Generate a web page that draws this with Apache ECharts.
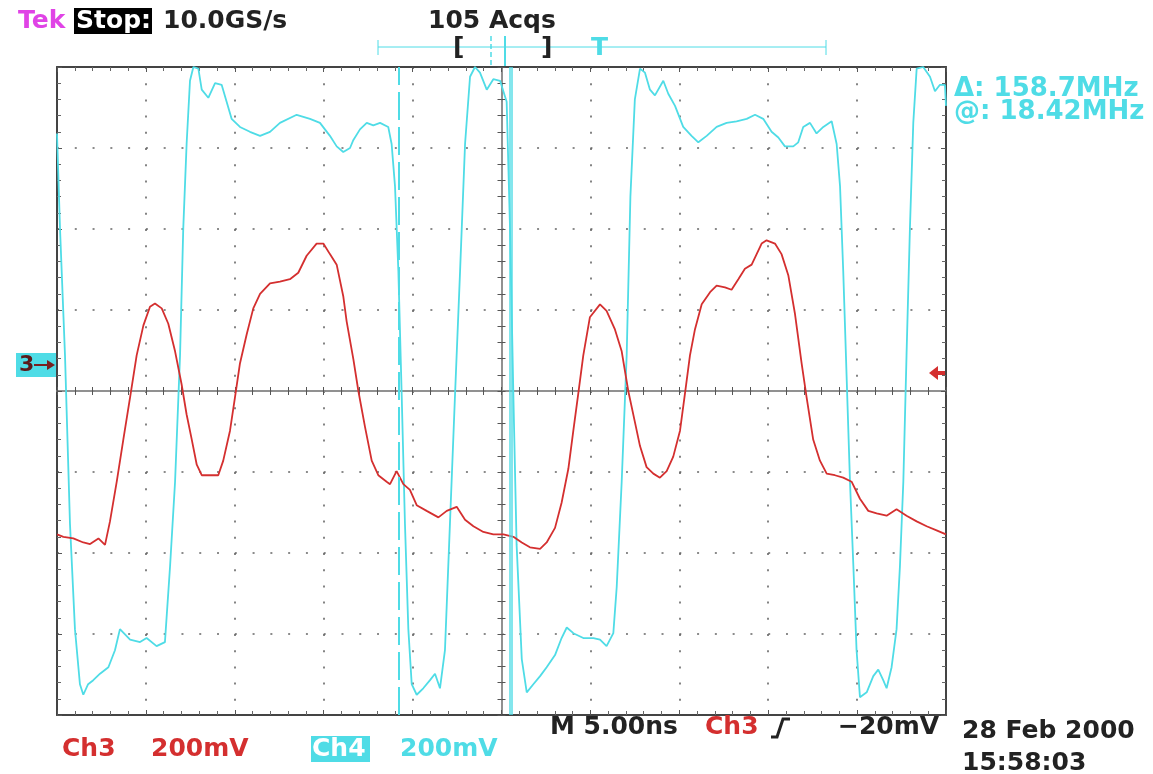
<!DOCTYPE html>
<html>
<head>
<meta charset="utf-8">
<script src="https://cdn.jsdelivr.net/npm/echarts@6/dist/echarts.min.js"></script>
<style>
  html, body { margin: 0; padding: 0; background: #fff; }
  #scope { width: 1153px; height: 774px; }
</style>
</head>
<body>
<div id="scope"></div>
<script>
// time in ns (5 ns/div), amplitude in divisions (200 mV/div)
var ch3 = [
  [0, -1.77], [0.36, -1.80], [0.92, -1.82], [1.48, -1.87], [1.86, -1.89], [2.33, -1.82], [2.70, -1.90],
  [2.98, -1.61], [3.36, -1.12], [3.73, -0.60], [4.11, -0.08], [4.48, 0.44], [4.86, 0.81], [5.23, 1.04],
  [5.51, 1.08], [5.89, 1.02], [6.26, 0.83], [6.64, 0.49], [7.01, 0.08], [7.29, -0.29], [7.58, -0.60],
  [7.86, -0.91], [8.14, -1.04], [8.61, -1.04], [9.07, -1.04], [9.35, -0.86], [9.73, -0.49], [10.01, -0.08],
  [10.29, 0.34], [10.67, 0.70], [11.04, 1.02], [11.42, 1.20], [11.98, 1.33], [12.54, 1.35], [13.10, 1.38],
  [13.57, 1.46], [14.04, 1.67], [14.60, 1.82], [14.98, 1.82], [15.35, 1.69], [15.73, 1.56], [16.10, 1.17],
  [16.29, 0.86], [16.67, 0.39], [16.95, 0.0], [17.32, -0.44], [17.70, -0.86], [18.07, -1.04], [18.54, -1.12],
  [18.73, -1.15], [19.10, -0.99], [19.48, -1.15], [19.85, -1.22], [20.23, -1.41], [20.79, -1.48], [21.45, -1.56],
  [21.92, -1.48], [22.48, -1.43], [22.95, -1.59], [23.42, -1.67], [23.98, -1.74], [24.54, -1.77], [25.11, -1.77],
  [25.67, -1.80], [26.14, -1.87], [26.60, -1.93], [27.17, -1.95], [27.54, -1.87], [28.01, -1.69], [28.38, -1.38],
  [28.76, -0.96], [29.04, -0.49], [29.32, -0.03], [29.60, 0.44], [29.97, 0.91], [30.54, 1.07], [30.91, 0.99],
  [31.38, 0.76], [31.76, 0.49], [32.13, 0.0], [32.51, -0.39], [32.79, -0.68], [33.16, -0.94], [33.54, -1.02],
  [33.91, -1.07], [34.29, -0.99], [34.66, -0.81], [35.04, -0.49], [35.32, -0.03], [35.60, 0.44], [35.88, 0.76],
  [36.26, 1.07], [36.73, 1.22], [37.10, 1.30], [37.57, 1.28], [37.94, 1.25], [38.32, 1.38], [38.69, 1.51],
  [39.07, 1.56], [39.35, 1.69], [39.63, 1.82], [39.91, 1.86], [40.38, 1.82], [40.75, 1.69], [41.13, 1.43],
  [41.50, 0.96], [41.88, 0.34], [42.16, -0.08], [42.53, -0.60], [42.91, -0.86], [43.29, -1.02], [43.75, -1.04],
  [44.22, -1.07], [44.69, -1.12], [45.16, -1.33], [45.63, -1.48], [46.10, -1.51], [46.66, -1.54], [47.22, -1.46],
  [47.78, -1.54], [48.35, -1.61], [48.91, -1.67], [49.47, -1.72], [50.0, -1.77]
];

var ch4 = [
  [0, 3.18], [0.17, 2.0], [0.45, 0.44], [0.73, -1.64], [1.01, -2.94], [1.29, -3.62], [1.48, -3.75],
  [1.75, -3.62], [2.04, -3.57], [2.42, -3.49], [2.89, -3.41], [3.26, -3.20], [3.54, -2.94], [4.11, -3.07],
  [4.67, -3.10], [5.04, -3.05], [5.60, -3.15], [6.07, -3.10], [6.36, -2.16], [6.64, -1.12], [6.92, 0.44],
  [7.10, 2.0], [7.29, 3.05], [7.48, 3.83], [7.67, 4.0], [7.95, 3.98], [8.14, 3.72], [8.51, 3.62], [8.89, 3.80],
  [9.26, 3.78], [9.54, 3.57], [9.82, 3.36], [10.29, 3.26], [10.85, 3.20], [11.42, 3.15], [11.98, 3.20],
  [12.54, 3.31], [13.48, 3.41], [14.23, 3.36], [14.79, 3.31], [15.35, 3.15], [15.73, 3.02], [16.10, 2.95],
  [16.48, 3.0], [16.67, 3.10], [17.04, 3.23], [17.42, 3.31], [17.79, 3.28], [18.17, 3.31], [18.63, 3.26],
  [18.82, 3.05], [19.01, 2.53], [19.20, 1.48], [19.39, -0.08], [19.57, -1.64], [19.76, -2.94], [19.95, -3.62],
  [20.23, -3.75], [20.60, -3.67], [20.98, -3.57], [21.26, -3.49], [21.54, -3.67], [21.82, -3.20], [22.10, -1.64],
  [22.38, -0.08], [22.67, 1.48], [22.95, 3.05], [23.23, 3.88], [23.51, 4.0], [23.79, 3.93], [24.17, 3.72],
  [24.54, 3.85], [24.92, 3.83], [25.29, 3.57], [25.48, 2.0], [25.67, -0.08], [25.85, -1.90], [26.14, -3.31],
  [26.42, -3.72], [26.79, -3.62], [27.17, -3.52], [27.54, -3.41], [28.01, -3.26], [28.38, -3.05], [28.67, -2.92],
  [29.04, -2.99], [29.60, -3.05], [30.17, -3.05], [30.54, -3.07], [30.91, -3.15], [31.29, -2.99], [31.48, -2.42],
  [31.76, -1.12], [32.04, 0.44], [32.25, 2.4], [32.50, 3.6], [32.79, 3.98], [33.07, 3.93], [33.35, 3.72],
  [33.63, 3.65], [34.10, 3.83], [34.38, 3.67], [34.76, 3.52], [35.22, 3.26], [35.69, 3.15], [36.07, 3.07],
  [36.54, 3.15], [37.10, 3.26], [37.66, 3.31], [38.22, 3.33], [38.79, 3.36], [39.26, 3.41], [39.72, 3.36],
  [40.19, 3.20], [40.57, 3.13], [40.94, 3.02], [41.41, 3.02], [41.69, 3.07], [41.97, 3.26], [42.35, 3.31],
  [42.72, 3.18], [43.10, 3.26], [43.57, 3.33], [43.85, 3.05], [44.04, 2.53], [44.22, 1.48], [44.41, 0.18],
  [44.60, -1.12], [44.79, -2.16], [44.97, -3.20], [45.16, -3.78], [45.54, -3.72], [45.91, -3.52], [46.19, -3.44],
  [46.47, -3.57], [46.66, -3.67], [46.94, -3.41], [47.22, -2.94], [47.41, -2.16], [47.60, -1.12], [47.78, 0.44],
  [47.97, 2.0], [48.16, 3.31], [48.35, 3.98], [48.72, 4.0], [49.10, 3.88], [49.38, 3.70], [49.66, 3.78],
  [49.94, 3.78], [50.0, 3.52]
];

// cursor positions (ns)
var cursorNs = [19.22, 25.52];

var RED = '#d42f2f';
var CYAN = '#4fdce6';
var INK = '#222';
var FONT = 'bold 25px "DejaVu Sans"';

var myChart = echarts.init(document.getElementById('scope'));

var plot = { left: 57, top: 67, width: 889, height: 648 };

function borderAxis(pos, isX) {
  var a = {
    type: 'value',
    gridIndex: 0,
    position: pos,
    axisLine: { onZero: false, lineStyle: { color: '#444', width: 2 } },
    axisTick: { inside: true, length: 5, lineStyle: { color: '#555' } },
    minorTick: { show: true, splitNumber: 5, length: 4, lineStyle: { color: '#666' } },
    axisLabel: { show: false },
    splitLine: { show: false }
  };
  if (isX) {
    a.min = 0; a.max = 50; a.interval = 5;
  } else {
    a.min = -4; a.max = 4; a.interval = 1;
  }
  return a;
}

function centerAxis(grid, pos, isX) {
  var a = {
    type: 'value',
    gridIndex: grid,
    position: pos,
    axisLine: { onZero: true, lineStyle: { color: '#8a8a8a', width: 1.5 } },
    axisTick: { inside: true, length: 4, lineStyle: { color: '#555' } },
    minorTick: { show: true, splitNumber: 5, length: 4, lineStyle: { color: '#555' } },
    axisLabel: { show: false },
    splitLine: { show: false }
  };
  if (isX) {
    a.min = -25; a.max = 25; a.interval = 5;
  } else {
    a.min = -4; a.max = 4; a.interval = 1;
  }
  return a;
}

var xMain = borderAxis('bottom', true);
xMain.splitLine = { show: true, lineStyle: { color: '#666', width: 1.6, type: [2, 14.2] } };
var yMain = borderAxis('left', false);
yMain.splitLine = { show: true, lineStyle: { color: '#666', width: 1.6, type: [2, 15.78] } };

function txt(x, y, s, color, font) {
  return {
    type: 'text', x: x, y: y, z: 10,
    style: { text: s, fill: color, font: font || FONT, verticalAlign: 'middle' }
  };
}

var option = {
  backgroundColor: '#fff',
  animation: false,
  grid: [
    Object.assign({}, plot),
    Object.assign({}, plot),
    Object.assign({}, plot)
  ],
  xAxis: [
    xMain,
    borderAxis('top', true),
    centerAxis(1, 'bottom', true),
    centerAxis(2, 'top', true)
  ],
  yAxis: [
    yMain,
    borderAxis('right', false),
    centerAxis(1, 'left', false),
    centerAxis(2, 'right', false)
  ],
  series: [
    {
      name: 'Ch4',
      type: 'line',
      xAxisIndex: 0,
      yAxisIndex: 0,
      data: ch4,
      showSymbol: false,
      clip: true,
      lineStyle: { color: CYAN, width: 1.8 },
      markLine: {
        silent: true,
        symbol: 'none',
        label: { show: false },
        data: [
          { xAxis: cursorNs[0], lineStyle: { color: CYAN, width: 2, type: [28, 7] } },
          { xAxis: cursorNs[1], lineStyle: { color: 'rgba(79,220,230,0.7)', width: 4, type: 'solid' } }
        ]
      }
    },
    {
      name: 'Ch3',
      type: 'line',
      xAxisIndex: 0,
      yAxisIndex: 0,
      data: ch3,
      showSymbol: false,
      clip: true,
      lineStyle: { color: RED, width: 1.8 }
    }
  ],
  graphic: [
    // header
    txt(18, 21, 'Tek', '#e043e6'),
    { type: 'rect', shape: { x: 74, y: 8, width: 78, height: 26 }, style: { fill: '#000' } },
    txt(76, 21, 'Stop:', '#fff'),
    txt(163, 21, '10.0GS/s', INK),
    txt(428, 21, '105 Acqs', INK),
    // record view bar
    { type: 'line', shape: { x1: 378, y1: 47, x2: 826, y2: 47 }, style: { stroke: CYAN, lineWidth: 1 } },
    { type: 'line', shape: { x1: 378, y1: 40, x2: 378, y2: 55 }, style: { stroke: CYAN, lineWidth: 1 } },
    { type: 'line', shape: { x1: 826, y1: 40, x2: 826, y2: 55 }, style: { stroke: CYAN, lineWidth: 1 } },
    { type: 'line', shape: { x1: 491, y1: 36, x2: 491, y2: 67 }, style: { stroke: CYAN, lineWidth: 1.5, lineDash: [5, 3] } },
    { type: 'line', shape: { x1: 505, y1: 36, x2: 505, y2: 67 }, style: { stroke: CYAN, lineWidth: 2 } },
    txt(453, 48, '[', INK),
    txt(541, 48, ']', INK),
    txt(591, 48, 'T', CYAN),
    // cursor readout
    txt(954, 89, 'Δ: 158.7MHz', CYAN, 'bold 26px "DejaVu Sans"'),
    txt(954, 112, '@: 18.42MHz', CYAN, 'bold 26px "DejaVu Sans"'),
    // ground marker / trigger level
    { type: 'rect', shape: { x: 16, y: 353, width: 41, height: 24 }, style: { fill: CYAN } },
    txt(19, 365, '3', '#5a1a1a', 'bold 22px "DejaVu Sans"'),
    { type: 'line', shape: { x1: 34, y1: 365, x2: 50, y2: 365 }, style: { stroke: '#7a1f1f', lineWidth: 2 } },
    { type: 'polygon', shape: { points: [[55, 365], [47, 360], [47, 370]] }, style: { fill: '#7a1f1f' } },
    { type: 'polygon', shape: { points: [[929, 373], [938, 366], [938, 380]] }, style: { fill: RED } },
    { type: 'rect', shape: { x: 937, y: 371, width: 9, height: 4 }, style: { fill: RED } },
    // footer
    txt(62, 749, 'Ch3', RED),
    txt(151, 749, '200mV', RED),
    { type: 'rect', shape: { x: 311, y: 736, width: 59, height: 26 }, style: { fill: CYAN } },
    txt(312, 749, 'Ch4', '#fff'),
    txt(400, 749, '200mV', CYAN),
    txt(550, 727, 'M 5.00ns', INK),
    txt(705, 727, 'Ch3', RED),
    { type: 'polyline', shape: { points: [[771, 737], [777, 737], [783, 719], [790, 719]] }, style: { stroke: INK, lineWidth: 3, fill: null } },
    txt(838, 727, '\u221220mV', INK),
    txt(962, 731, '28 Feb 2000', INK),
    txt(962, 763, '15:58:03', INK)
  ]
};

myChart.setOption(option);
</script>
</body>
</html>
